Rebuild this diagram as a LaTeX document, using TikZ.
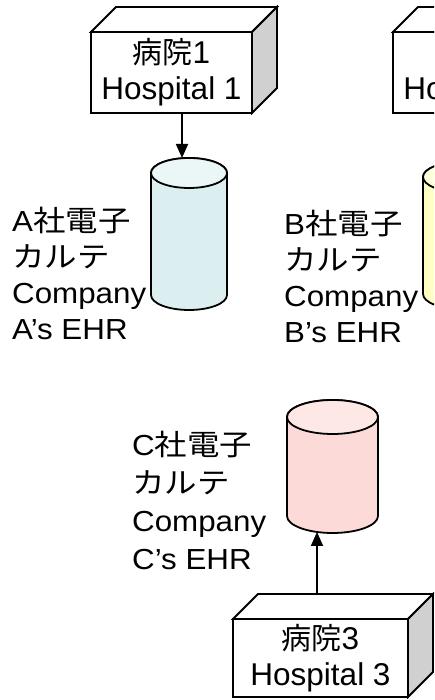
\documentclass[tikz,border=0pt]{standalone}
\usepackage{fontspec}
\setmainfont{Liberation Sans}
\newfontfamily\cjk{Noto Sans CJK JP}
\newfontfamily\lblfont{Liberation Sans}[FakeStretch=1.08]
\newfontfamily\lblcjk{Noto Sans CJK JP}[FakeStretch=1.12]
\usetikzlibrary{arrows.meta,calc}

\definecolor{sidegray}{HTML}{D0D0D0}
\definecolor{cylAbody}{HTML}{DCEFF0}
\definecolor{cylAtop}{HTML}{EBF6F7}
\definecolor{cylBbody}{HTML}{FFFFC4}
\definecolor{cylBtop}{HTML}{FFFFDE}
\definecolor{cylCbody}{HTML}{FCDAD7}
\definecolor{cylCtop}{HTML}{FDE8E6}

% Japanese inside box captions and side labels
\newcommand\bj[1]{{\cjk\fontsize{30}{30}\selectfont #1}}
\newcommand\jp[1]{{\lblcjk\fontsize{29}{29}\selectfont #1}}

% top and side faces of a hospital block, hung on its front face node
\newcommand\boxfaces[1]{%
  \draw[boxline, fill=white] (#1.north west) -- ++(25,25)
    -- ($(#1.north east)+(25,25)$) -- (#1.north east) -- cycle;
  \draw[boxline, fill=sidegray] (#1.north east) -- ++(25,25)
    -- ($(#1.south east)+(25,25)$) -- (#1.south east) -- cycle;}

% database cylinder: left, right, bottom, top, end radius, body colour, end colour, node name
\newcommand\ehrcylinder[8]{%
  \pgfmathsetmacro\cylcx{(#1+#2)/2}%
  \pgfmathsetmacro\cylcy{(#3+#4)/2}%
  \pgfmathsetmacro\cylrx{(#2-#1)/2}%
  \pgfmathsetmacro\cylh{#4-#3}%
  \pgfmathsetmacro\cylw{#2-#1}%
  \draw[dbline, fill=#6] (#1,#4-#5) -- (#1,#3+#5)
    arc[start angle=180, end angle=360, x radius=\cylrx, y radius=#5]
    -- (#2,#4-#5)
    arc[start angle=0, end angle=180, x radius=\cylrx, y radius=#5] -- cycle;
  \draw[dbline, fill=#7] (\cylcx,#4-#5) ellipse [x radius=\cylrx, y radius=#5];
  \node[inner sep=0pt, outer sep=0pt, minimum width=\cylw pt,
        minimum height=\cylh pt] (#8) at (\cylcx,\cylcy) {};}

\tikzset{
  boxline/.style={draw=black, line width=1.8pt, line join=miter},
  dbline/.style={draw=black, line width=1.8pt},
  hospbox/.style={boxline, fill=white, outer sep=0pt, inner sep=0pt,
    align=center, anchor=north west, font=\fontsize{31.5}{36}\selectfont},
  % anchored on the baseline of the last line
  lbl/.style={inner sep=0pt, align=left, anchor=base west,
    font=\lblfont\fontsize{29}{36}\selectfont},
  flow/.style={draw=black, line width=1.8pt,
    -{Triangle[length=14pt,width=12pt]}}
}

\begin{document}
\begin{tikzpicture}[x=1pt,y=1pt]
\useasboundingbox (0,0) rectangle (434,700);
\clip (0,0) rectangle (434,700);

% hospitals
\node[hospbox, minimum width=161pt, minimum height=81pt] (h1) at (91,668)
  {\bj{病院}1\\Hospital 1};
\boxfaces{h1}
\node[hospbox, minimum width=161pt, minimum height=81pt] (h2) at (393,668)
  {\bj{病院}2\\Hospital 2};
\boxfaces{h2}
\node[hospbox, minimum width=175pt, minimum height=78pt] (h3) at (233,81)
  {\bj{病院}3\\Hospital 3};
\boxfaces{h3}

% vendor record systems
\ehrcylinder{151}{227}{390}{542}{15}{cylAbody}{cylAtop}{cylA}
\ehrcylinder{423}{499}{391}{538}{15}{cylBbody}{cylBtop}{cylB}
\ehrcylinder{287}{378}{167}{300}{17}{cylCbody}{cylCtop}{cylC}

% captions
\node[lbl] (labA) at (12,360) {A\jp{社電子}\\\jp{カルテ}\\Company\\A’s EHR};
\node[lbl] (labB) at (284,357) {B\jp{社電子}\\\jp{カルテ}\\Company\\B’s EHR};
\node[lbl, font=\lblfont\fontsize{29}{38}\selectfont] (labC) at (132,130)
  {C\jp{社電子}\\\jp{カルテ}\\Company\\C’s EHR};

% data flow
\draw[flow] ([xshift=10.5pt]h1.south) -- ([xshift=-7pt]cylA.north);
\draw[flow] ([shift={(-3.5pt,25pt)}]h3.north) -- ([shift={(-15.5pt,1pt)}]cylC.south);
\end{tikzpicture}
\end{document}
